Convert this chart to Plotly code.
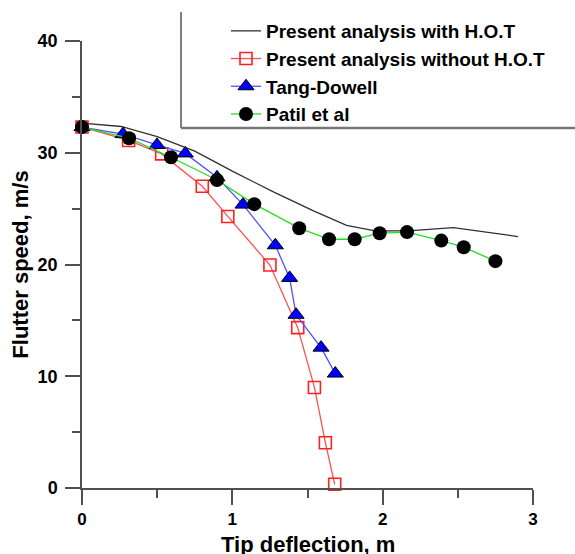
import plotly.graph_objects as go

# ---- data ----
hot_x = [0, 0.26, 0.5, 0.75, 1.0, 1.28, 1.54, 1.76, 1.95, 2.17, 2.47, 2.9]
hot_y = [32.65, 32.35, 31.45, 30.15, 28.35, 26.45, 24.8, 23.5, 23.0, 23.0, 23.3, 22.5]

nohot_x = [0, 0.31, 0.53, 0.80, 0.97, 1.25, 1.435, 1.546, 1.619, 1.681]
nohot_y = [32.3, 31.1, 29.9, 27.0, 24.3, 19.95, 14.35, 9.0, 4.05, 0.33]

tang_x = [0, 0.273, 0.499, 0.687, 0.898, 1.071, 1.286, 1.381, 1.424, 1.590, 1.685]
tang_y = [32.3, 31.67, 30.7, 29.94, 27.8, 25.36, 21.72, 18.8, 15.5, 12.56, 10.24]

patil_x = [0, 0.313, 0.592, 0.898, 1.146, 1.445, 1.643, 1.814, 1.98, 2.162, 2.39, 2.539, 2.75]
patil_y = [32.3, 31.3, 29.6, 27.56, 25.4, 23.25, 22.26, 22.26, 22.8, 22.9, 22.14, 21.55, 20.3]

x_ticks = [0, 1, 2, 3]
y_ticks = [0, 10, 20, 30, 40]
x_title = "Tip deflection, m"
y_title = "Flutter speed, m/s"

FONT = "Liberation Sans, Arial, sans-serif"
AX = "#505050"

fig = go.Figure()
fig.add_trace(go.Scatter(
    x=hot_x, y=hot_y, mode="lines", name="Present analysis with H.O.T",
    line=dict(color="#303030", width=1.3), cliponaxis=False))
fig.add_trace(go.Scatter(
    x=nohot_x, y=nohot_y, mode="lines+markers", name="Present analysis without H.O.T",
    line=dict(color="#ff5050", width=1.3),
    marker=dict(symbol="square-open", size=12, color="#ff2020", line=dict(width=1.6)),
    cliponaxis=False))
fig.add_trace(go.Scatter(
    x=tang_x, y=tang_y, mode="lines+markers", name="Tang-Dowell",
    line=dict(color="#5050ff", width=1.3),
    marker=dict(symbol="triangle-up", size=14, color="#0000ff",
                line=dict(color="black", width=1)),
    cliponaxis=False))
fig.add_trace(go.Scatter(
    x=patil_x, y=patil_y, mode="lines+markers", name="Patil et al",
    line=dict(color="#20e020", width=1.3),
    marker=dict(symbol="circle", size=14, color="black"),
    cliponaxis=False))

W, H = 575, 554
L, R, T, B = 82, 42, 41, 66
pw, ph = W - L - R, H - T - B

def px(xp):
    return (xp - L) / pw

def py(yp):
    return (H - B - yp) / ph

fig.update_layout(
    width=W, height=H,
    margin=dict(l=L, r=R, t=T, b=B, autoexpand=False),
    paper_bgcolor="white", plot_bgcolor="white",
    font=dict(family=FONT, color="black"),
    showlegend=True,
    legend=dict(
        x=px(226), y=py(12), xanchor="left", yanchor="top",
        bgcolor="rgba(0,0,0,0)", borderwidth=0,
        font=dict(family=FONT, size=19, weight="bold", color="black"),
        itemwidth=30, tracegroupgap=0,
    ),
    shapes=[
        dict(type="line", xref="paper", yref="paper",
             x0=px(181), x1=px(181), y0=py(12), y1=py(128),
             line=dict(color="#555555", width=1.5)),
        dict(type="line", xref="paper", yref="paper",
             x0=px(181), x1=px(577), y0=py(128), y1=py(128),
             line=dict(color="#777777", width=2.5)),
    ],
    annotations=[
        dict(text=x_title, xref="paper", yref="paper", x=0.5, y=py(530),
             xanchor="center", yanchor="top", showarrow=False,
             font=dict(family=FONT, size=22, weight="bold", color="black")),
    ],
    xaxis=dict(
        range=[0, 3], tickmode="array", tickvals=x_ticks,
        showgrid=False, zeroline=False, showline=True,
        linecolor=AX, linewidth=1.5,
        ticks="outside", ticklen=15, tickwidth=1.5, tickcolor=AX,
        tickfont=dict(family=FONT, size=17, weight="bold"),
        ticklabelstandoff=0,
        minor=dict(dtick=0.5, tick0=0, ticks="outside", ticklen=8,
                   tickwidth=1.5, tickcolor=AX, showgrid=False),
    ),
    yaxis=dict(
        range=[0, 40], tickmode="array", tickvals=y_ticks,
        showgrid=False, zeroline=False, showline=True,
        linecolor=AX, linewidth=1.5,
        ticks="outside", ticklen=15, tickwidth=1.5, tickcolor=AX,
        tickfont=dict(family=FONT, size=18, weight="bold"),
        ticklabelstandoff=4,
        minor=dict(dtick=5, tick0=0, ticks="outside", ticklen=8,
                   tickwidth=1.5, tickcolor=AX, showgrid=False),
        title=dict(text=y_title, standoff=3,
                   font=dict(family=FONT, size=22, weight="bold")),
    ),
)

fig.write_html("out.html", config={"displayModeBar": False},
               post_script="document.body.style.margin='0';document.body.style.padding='0';")
